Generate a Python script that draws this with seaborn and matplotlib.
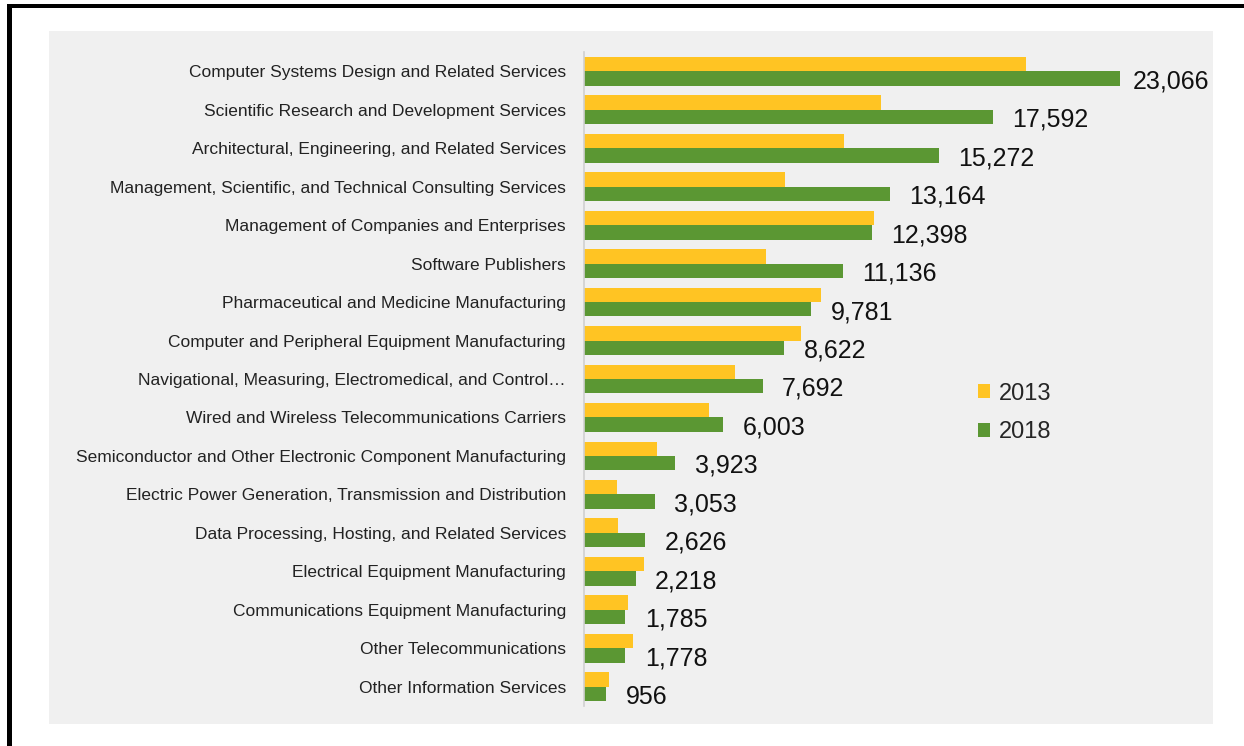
import matplotlib
matplotlib.use("Agg")
import matplotlib.pyplot as plt
from matplotlib.patches import Rectangle, Patch
from matplotlib import font_manager
import seaborn as sns
import pandas as pd

industries = [
    "Computer Systems Design and Related Services",
    "Scientific Research and Development Services",
    "Architectural, Engineering, and Related Services",
    "Management, Scientific, and Technical Consulting Services",
    "Management of Companies and Enterprises",
    "Software Publishers",
    "Pharmaceutical and Medicine Manufacturing",
    "Computer and Peripheral Equipment Manufacturing",
    "Navigational, Measuring, Electromedical, and Control\u2026",
    "Wired and Wireless Telecommunications Carriers",
    "Semiconductor and Other Electronic Component Manufacturing",
    "Electric Power Generation, Transmission and Distribution",
    "Data Processing, Hosting, and Related Services",
    "Electrical Equipment Manufacturing",
    "Communications Equipment Manufacturing",
    "Other Telecommunications",
    "Other Information Services",
]
values_2013 = [19000, 12780, 11170, 8660, 12480, 7830, 10200, 9340, 6500,
               5380, 3155, 1420, 1460, 2580, 1910, 2095, 1080]
values_2018 = [23066, 17592, 15272, 13164, 12398, 11136, 9781, 8622, 7692,
               6003, 3923, 3053, 2626, 2218, 1785, 1778, 956]
years = ["2013", "2018"]
colors = ["#FFC423", "#5B9733"]

df = pd.DataFrame({
    "industry": industries * 2,
    "year": [years[0]] * len(industries) + [years[1]] * len(industries),
    "jobs": values_2013 + values_2018,
})

names = {f.name for f in font_manager.fontManager.ttflist}
label_font = ["Liberation Sans Narrow", "Liberation Sans", "DejaVu Sans"]
label_font = [f for f in label_font if f in names] or ["DejaVu Sans"]
value_font = [f for f in ["Liberation Sans", "DejaVu Sans"] if f in names]

sns.set_theme(style="white")
plt.rcParams["font.family"] = value_font

W, H = 1244, 746
fig = plt.figure(figsize=(W / 100, H / 100), dpi=100)
fig.patch.set_facecolor("white")

# chart panel and frame lines
fig.patches.append(Rectangle((49 / W, 1 - 724 / H), (1213 - 49) / W, (724 - 31) / H,
                             transform=fig.transFigure, facecolor="#F0F0F0",
                             edgecolor="none", zorder=-5))
fig.patches.append(Rectangle((7 / W, 0), 5 / W, 1 - 4 / H, transform=fig.transFigure,
                             facecolor="black", edgecolor="none", zorder=-4))
fig.patches.append(Rectangle((7 / W, 1 - 7.5 / H), 1, 3.5 / H, transform=fig.transFigure,
                             facecolor="black", edgecolor="none", zorder=-4))

px_per_unit = (1120 - 584) / 23066
ax_left, ax_right = 584, 1184
ax_top, ax_bot = 52, 706
ax = fig.add_axes([ax_left / W, 1 - ax_bot / H, (ax_right - ax_left) / W, (ax_bot - ax_top) / H])
ax.patch.set_alpha(0)

sns.barplot(data=df, y="industry", x="jobs", hue="year", hue_order=years,
            palette=colors, orient="h", width=0.75, dodge=True, saturation=1,
            legend=False, linewidth=0, ax=ax)

ax.set_xlim(0, (ax_right - ax_left) / px_per_unit)
ax.set_xlabel("")
ax.set_ylabel("")
ax.set_xticks([])
for s in ["top", "right", "bottom"]:
    ax.spines[s].set_visible(False)
ax.spines["left"].set_color("#D0D0D0")
ax.spines["left"].set_linewidth(1.2)
ax.tick_params(axis="y", length=0, pad=13)
for t in ax.get_yticklabels():
    t.set_fontfamily(label_font)
    t.set_fontsize(12.5)
    t.set_color("#222222")

value_labels = ax.bar_label(ax.containers[1], labels=[f"{v:,}" for v in values_2018],
                            padding=14, fontsize=18, color="#111111")
for i, ann in enumerate(value_labels):
    ann.xyann = (9 if i == 0 else 14, -2)

handles = [Patch(facecolor=c, edgecolor="none", label=y) for c, y in zip(colors, years)]
fig.legend(handles=handles, loc="center left", bbox_to_anchor=(966 / W, 1 - 413 / H),
           frameon=False, fontsize=17, handlelength=0.5, handleheight=0.5,
           handletextpad=0.4, labelspacing=0.72, borderpad=0)

fig.savefig("out.png", dpi=100)
